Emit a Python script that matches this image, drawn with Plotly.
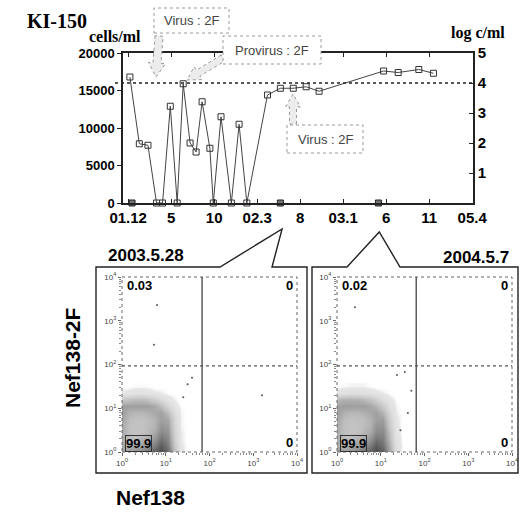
import math
import plotly.graph_objects as go

W, H = 520, 512

# ---------------- data ----------------
# months counted from the "01.12" tick
tick_months = [0, 5, 10, 15, 20, 25, 30, 35, 40]
tick_labels = ["01.12", "5", "10", "02.3", "8", "03.1", "6", "11", "05.4"]

cell_month = [0.2, 1.3, 2.3, 3.3, 4.0, 4.9, 5.7, 6.4, 7.2, 7.9, 8.6, 9.5, 9.9,
              10.8, 12.0, 12.9, 13.8, 16.2, 17.7, 19.2, 20.7, 22.2, 29.7, 31.4,
              33.8, 35.5]
cells_per_ml = [16800, 7900, 7700, 0, 0, 12900, 0, 15900, 8000, 6800, 13500,
                7300, 0, 11500, 0, 10500, 0, 14400, 15300, 15300, 15500, 14900,
                17600, 17400, 17800, 17300]

undetect_month = [0.45, 17.7, 29.1]
undetect_log = [0, 0, 0]

threshold_log = 4

left_ticks = [0, 5000, 10000, 15000, 20000]
left_ticklabels = ["0", "5000", "10000", "15000", "20000"]
right_ticks = [1, 2, 3, 4, 5]

flow_ticks = [0, 1, 2, 3, 4]
flow_ticklabels = ["10<sup>0</sup>", "10<sup>1</sup>", "10<sup>2</sup>",
                   "10<sup>3</sup>", "10<sup>4</sup>"]

date1, date2 = "2003.5.28", "2004.5.7"
date1_month, date2_month = 17.9, 29.2

quad1 = ["0.03", "0", "99.9", "0"]
quad2 = ["0.02", "0", "99.9", "0"]
gate1_x, gate2_x, gate_y = 1.83, 1.81, 1.97

grid = [0.0, 0.15, 0.3, 0.45, 0.6, 0.75, 0.9, 1.05, 1.2, 1.35, 1.5]
density1 = [
    [0.55, 0.55, 0.60, 0.65, 0.75, 0.85, 0.92, 0.80, 0.35, 0.05, 0.0],
    [0.50, 0.45, 0.50, 0.55, 0.60, 0.70, 0.85, 0.70, 0.30, 0.04, 0.0],
    [0.50, 0.40, 0.40, 0.45, 0.50, 0.60, 0.75, 0.65, 0.25, 0.03, 0.0],
    [0.50, 0.38, 0.35, 0.38, 0.42, 0.50, 0.65, 0.60, 0.22, 0.03, 0.0],
    [0.50, 0.38, 0.35, 0.35, 0.40, 0.45, 0.60, 0.55, 0.20, 0.02, 0.0],
    [0.52, 0.40, 0.38, 0.38, 0.40, 0.45, 0.55, 0.50, 0.18, 0.02, 0.0],
    [0.55, 0.45, 0.42, 0.42, 0.45, 0.50, 0.55, 0.40, 0.12, 0.02, 0.0],
    [0.55, 0.55, 0.55, 0.55, 0.55, 0.50, 0.40, 0.20, 0.05, 0.01, 0.0],
    [0.30, 0.35, 0.38, 0.38, 0.35, 0.25, 0.15, 0.06, 0.02, 0.0, 0.0],
    [0.04, 0.06, 0.08, 0.08, 0.06, 0.04, 0.03, 0.01, 0.0, 0.0, 0.0],
    [0.0, 0.0, 0.01, 0.01, 0.01, 0.0, 0.0, 0.0, 0.0, 0.0, 0.0],
]
density2 = [
    [0.55, 0.55, 0.60, 0.65, 0.75, 0.85, 0.92, 0.85, 0.50, 0.12, 0.0],
    [0.50, 0.45, 0.50, 0.55, 0.60, 0.70, 0.85, 0.75, 0.45, 0.10, 0.0],
    [0.50, 0.40, 0.40, 0.45, 0.50, 0.60, 0.75, 0.70, 0.40, 0.08, 0.0],
    [0.50, 0.38, 0.35, 0.38, 0.42, 0.50, 0.65, 0.65, 0.35, 0.06, 0.0],
    [0.50, 0.38, 0.35, 0.35, 0.40, 0.45, 0.60, 0.60, 0.30, 0.05, 0.0],
    [0.52, 0.40, 0.38, 0.38, 0.40, 0.45, 0.55, 0.55, 0.25, 0.04, 0.0],
    [0.55, 0.45, 0.42, 0.42, 0.45, 0.50, 0.55, 0.45, 0.18, 0.03, 0.0],
    [0.55, 0.55, 0.55, 0.55, 0.55, 0.52, 0.45, 0.30, 0.10, 0.02, 0.0],
    [0.40, 0.45, 0.45, 0.45, 0.42, 0.35, 0.25, 0.12, 0.04, 0.01, 0.0],
    [0.08, 0.10, 0.12, 0.12, 0.10, 0.08, 0.05, 0.03, 0.01, 0.0, 0.0],
    [0.0, 0.01, 0.02, 0.02, 0.02, 0.01, 0.0, 0.0, 0.0, 0.0, 0.0],
]
out1_x = [0.80, 0.73, 3.20, 1.50, 1.60, 1.40]
out1_y = [3.36, 2.45, 1.30, 1.55, 1.70, 1.25]
out2_x = [0.41, 1.62, 1.37, 1.55, 1.70, 1.45]
out2_y = [3.31, 0.89, 1.76, 1.83, 1.40, 0.50]

# ---------------- helpers ----------------
def X(px):
    return px / W

def Y(py):
    return 1 - py / H

SANS = "Liberation Sans, Arial, sans-serif"
SERIF = "Liberation Serif, Times New Roman, serif"

XMIN, XMAX = -0.6, 40.1
PX0, PX1 = 123, 473

def month_px(m):
    return PX0 + (m - XMIN) / (XMAX - XMIN) * (PX1 - PX0)

def arrow_path(x0, y0, x1, y1, shaft, head, headlen):
    dx, dy = x1 - x0, y1 - y0
    L = math.hypot(dx, dy)
    ux, uy = dx / L, dy / L
    nx, ny = -uy, ux
    bx, by = x1 - ux * headlen, y1 - uy * headlen
    pts = [(x0 + nx * shaft / 2, y0 + ny * shaft / 2),
           (bx + nx * shaft / 2, by + ny * shaft / 2),
           (bx + nx * head / 2, by + ny * head / 2),
           (x1, y1),
           (bx - nx * head / 2, by - ny * head / 2),
           (bx - nx * shaft / 2, by - ny * shaft / 2),
           (x0 - nx * shaft / 2, y0 - ny * shaft / 2)]
    return "M " + " L ".join(f"{X(a):.5f},{Y(b):.5f}" for a, b in pts) + " Z"

def poly_path(pts, close=True):
    s = "M " + " L ".join(f"{X(a):.5f},{Y(b):.5f}" for a, b in pts)
    return s + (" Z" if close else "")

def label(px, py, text, font, xanchor="center", yanchor="middle", **kw):
    return dict(x=X(px), y=Y(py), xref="paper", yref="paper", text=text,
                showarrow=False, xanchor=xanchor, yanchor=yanchor, font=font, **kw)

fig = go.Figure()

# ---------------- top chart ----------------
fig.add_trace(go.Scatter(
    x=cell_month, y=cells_per_ml, mode="lines+markers",
    line=dict(color="#444", width=1),
    marker=dict(symbol="square-open", size=6, color="#333", line=dict(width=1)),
    cliponaxis=False, xaxis="x", yaxis="y", showlegend=False))
fig.add_trace(go.Scatter(
    x=undetect_month, y=undetect_log, mode="markers",
    marker=dict(symbol="square", size=6, color="#777", line=dict(width=1, color="#222")),
    cliponaxis=False, xaxis="x", yaxis="y2", showlegend=False))

# ---------------- flow panels ----------------
cscale = [[0, "rgba(255,255,255,0)"], [0.03, "rgba(220,220,220,0.7)"],
          [0.4, "#bdbdbd"], [0.6, "#959595"], [0.85, "#5e5e5e"], [1, "#303030"]]
for dens, ox, oy, xa, ya in [(density1, out1_x, out1_y, "x3", "y3"),
                              (density2, out2_x, out2_y, "x4", "y4")]:
    fig.add_trace(go.Heatmap(x=grid, y=grid, z=dens, zmin=0, zmax=1,
                             zsmooth="best", colorscale=cscale, showscale=False,
                             hoverinfo="skip", xaxis=xa, yaxis=ya))
    fig.add_trace(go.Scatter(x=ox, y=oy, mode="markers",
                             marker=dict(size=2, color="#555"),
                             xaxis=xa, yaxis=ya, showlegend=False))

shapes = []
annotations = []

# threshold dotted line (log 4)
shapes.append(dict(type="line", xref="paper", yref="y2", x0=X(115), x1=X(PX1),
                   y0=threshold_log, y1=threshold_log,
                   line=dict(color="#222", width=1.3, dash="dot"), layer="above"))

# callout arrows (fat, grey)
for (x0, y0, x1, y1, sh, hd, hl) in [(159, 36, 156, 77, 8, 17, 14),
                                      (223, 58, 187, 80, 7, 15, 13),
                                      (293, 124, 293, 94, 7, 15, 13)]:
    shapes.append(dict(type="path", path=arrow_path(x0, y0, x1, y1, sh, hd, hl),
                       xref="paper", yref="paper", fillcolor="#ececec",
                       line=dict(color="#999", width=1, dash="dot"), layer="above"))

# callout boxes
boxes = [(154, 8, 229, 33, "Virus : 2F"),
         (223, 36, 321, 64, "Provirus : 2F"),
         (287, 125, 363, 153, "Virus : 2F")]
for (a, b, c, d, t) in boxes:
    shapes.append(dict(type="rect", xref="paper", yref="paper",
                       x0=X(a), x1=X(c), y0=Y(d), y1=Y(b), fillcolor="white",
                       line=dict(color="#999", width=1, dash="dot"), layer="above"))
    annotations.append(label((a + c) / 2, (b + d) / 2, t,
                             dict(family=SANS, size=13, color="#444")))

# texts top
annotations += [
    label(57, 21, "KI-150", dict(family=SERIF, size=20, color="black", weight="bold")),
    label(115, 36, "cells/ml", dict(family=SERIF, size=16, color="black", weight="bold")),
    label(478, 33, "log c/ml", dict(family=SERIF, size=16, color="black", weight="bold")),
]

# flow panel frames with pointers
t1 = month_px(date1_month)
t2 = month_px(date2_month)
shapes.append(dict(type="path", xref="paper", yref="paper", layer="above",
                   path=poly_path([(96, 267), (220, 267), (t1, 229), (272, 267),
                                   (307, 267), (307, 473), (96, 473)]),
                   line=dict(color="#222", width=1.4)))
shapes.append(dict(type="path", xref="paper", yref="paper", layer="above",
                   path=poly_path([(312, 267), (347, 267), (t2, 232), (400, 267),
                                   (518, 267), (518, 473), (312, 473)]),
                   line=dict(color="#222", width=1.4)))

for xa, ya, gx, q, x0p in [("x3", "y3", gate1_x, quad1, 122),
                           ("x4", "y4", gate2_x, quad2, 337)]:
    shapes.append(dict(type="rect", xref=f"{xa} domain", yref=f"{ya} domain",
                       x0=0, x1=1, y0=0, y1=1,
                       line=dict(color="#666", width=1, dash="dot"), layer="above"))
    shapes.append(dict(type="line", xref=xa, yref=ya, x0=gx, x1=gx, y0=0, y1=4,
                       line=dict(color="#333", width=1.2), layer="above"))
    shapes.append(dict(type="line", xref=xa, yref=ya, x0=0, x1=4, y0=gate_y, y1=gate_y,
                       line=dict(color="#555", width=1.2, dash="dot"), layer="above"))
    qf = dict(family=SANS, size=13, color="black", weight="bold")
    annotations += [
        label(x0p + 3, 285, q[0], qf, xanchor="left"),
        label(x0p + 173, 285, q[1], qf, xanchor="right"),
        label(x0p + 3, 443, q[2], qf, xanchor="left", bordercolor="#333",
              borderwidth=1, borderpad=0),
        label(x0p + 173, 442, q[3], qf, xanchor="right"),
    ]

annotations += [
    label(146, 255, date1, dict(family=SANS, size=17, color="black", weight="bold")),
    label(511, 257, date2, dict(family=SANS, size=17, color="black", weight="bold"),
          xanchor="right"),
    label(72, 358, "Nef138-2F", dict(family=SANS, size=21, color="black", weight="bold"),
          textangle=-90),
    label(150, 497, "Nef138", dict(family=SANS, size=21, color="black", weight="bold")),
]

# ---------------- axes ----------------
tick_b = dict(family=SANS, size=15, color="black", weight="bold")
minor_vals = [k + math.log10(m) for k in range(4) for m in range(2, 10)]
flow_axis = dict(range=[0, 4], tickvals=flow_ticks, ticktext=flow_ticklabels,
                 ticks="outside", ticklen=3, tickcolor="#666", showline=False,
                 showgrid=False, zeroline=False, automargin=False,
                 tickfont=dict(family=SANS, size=8, color="#444"),
                 minor=dict(tickvals=minor_vals, ticks="outside", ticklen=2,
                            tickcolor="#888", showgrid=False))

fig.update_layout(
    template="none",
    width=W, height=H, margin=dict(l=0, r=0, t=0, b=0, autoexpand=False),
    paper_bgcolor="white", plot_bgcolor="white", showlegend=False,
    xaxis=dict(domain=[X(PX0), X(PX1)], range=[XMIN, XMAX], tickvals=tick_months,
               ticktext=tick_labels, ticks="inside", ticklen=4, tickcolor="#222",
               showline=True, linecolor="#222", linewidth=1.5, mirror="ticks",
               showgrid=False, zeroline=False, tickfont=tick_b, anchor="y",
               automargin=False),
    yaxis=dict(domain=[Y(203), Y(53)], range=[0, 20000], tickvals=left_ticks,
               ticktext=left_ticklabels,
               ticks="outside", ticklen=4, tickcolor="#222", showline=True,
               linecolor="#222", linewidth=1.5, showgrid=False, zeroline=False,
               tickfont=dict(family=SANS, size=13, color="black", weight="bold"),
               anchor="x", automargin=False),
    yaxis2=dict(overlaying="y", side="right", range=[0, 5], tickvals=right_ticks,
                ticks="inside", ticklen=4, tickcolor="#222", showline=True,
                linecolor="#222", linewidth=1.5, showgrid=False, zeroline=False,
                tickfont=dict(family=SANS, size=15, color="black", weight="bold"),
                anchor="x", automargin=False),
    xaxis3=dict(domain=[X(122), X(297)], anchor="y3", **flow_axis),
    yaxis3=dict(domain=[Y(452), Y(277)], anchor="x3", **flow_axis),
    xaxis4=dict(domain=[X(337), X(512)], anchor="y4", **flow_axis),
    yaxis4=dict(domain=[Y(452), Y(277)], anchor="x4", **flow_axis),
    shapes=shapes, annotations=annotations,
)

fig.write_html("out.html",
               post_script="document.body.style.margin='0';"
                           "document.body.style.padding='0';"
                           "document.body.style.overflow='hidden';")
